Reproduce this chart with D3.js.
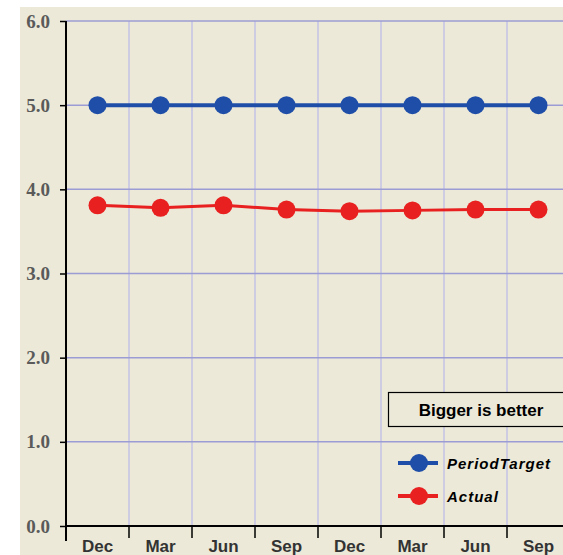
<!DOCTYPE html>
<html>
<head>
<meta charset="utf-8">
<script src="https://cdn.jsdelivr.net/npm/d3@7"></script>
<style>
  body { margin: 0; background: #fff; }
  svg { display: block; }
</style>
</head>
<body>
<div id="chart"></div>
<script>
// chart data
var periods = ["Dec", "Mar", "Jun", "Sep", "Dec", "Mar", "Jun", "Sep"];
var periodTarget = [5.0, 5.0, 5.0, 5.0, 5.0, 5.0, 5.0, 5.0];
var actual = [3.81, 3.78, 3.81, 3.76, 3.74, 3.75, 3.76, 3.76];
var yTicks = [0, 1, 2, 3, 4, 5, 6];
var seriesNames = ["PeriodTarget", "Actual"];
var note = "Bigger is better";

(function () {
  "use strict";

  var width = 563, height = 555;
  var left = 66, top = 21, bottom = 526, right = 570;

  var svg = d3.select("#chart").append("svg")
    .attr("width", width)
    .attr("height", height);

  // beige panel
  svg.append("rect")
    .attr("x", 20).attr("y", 7)
    .attr("width", width - 20).attr("height", height - 7)
    .attr("fill", "#ECE9D8");

  var x = d3.scaleBand()
    .domain(d3.range(periods.length))
    .range([left, right]);

  var y = d3.scaleLinear()
    .domain([0, 6])
    .range([bottom, top]);

  // vertical grid
  svg.append("g").selectAll("line")
    .data(d3.range(1, periods.length))
    .join("line")
    .attr("x1", function (d) { return x(d); })
    .attr("x2", function (d) { return x(d); })
    .attr("y1", top).attr("y2", bottom)
    .attr("stroke", "#C4C2E6")
    .attr("stroke-width", 1.5);

  // horizontal grid
  svg.append("g").selectAll("line")
    .data(yTicks.slice(1))
    .join("line")
    .attr("x1", left).attr("x2", width)
    .attr("y1", function (d) { return y(d); })
    .attr("y2", function (d) { return y(d); })
    .attr("stroke", "#9C9CD4")
    .attr("stroke-width", 1.5);

  // y axis
  var yAxis = d3.axisLeft(y)
    .tickValues(yTicks)
    .tickSize(6)
    .tickPadding(10)
    .tickFormat(d3.format(".1f"));

  var gy = svg.append("g")
    .attr("transform", "translate(" + left + ",0)")
    .call(yAxis);
  gy.select(".domain").remove();
  gy.selectAll(".tick line").attr("stroke", "#000").attr("stroke-width", 1.5);
  gy.selectAll(".tick text")
    .attr("fill", "#5a5a5a")
    .style("font", "bold 19px 'Liberation Serif', serif");

  svg.append("line")
    .attr("x1", left).attr("x2", left)
    .attr("y1", top).attr("y2", bottom + 15)
    .attr("stroke", "#000").attr("stroke-width", 2);

  // x axis
  svg.append("line")
    .attr("x1", left).attr("x2", width)
    .attr("y1", bottom).attr("y2", bottom)
    .attr("stroke", "#000").attr("stroke-width", 2);

  svg.append("g").selectAll("line")
    .data(d3.range(1, periods.length))
    .join("line")
    .attr("x1", function (d) { return x(d); })
    .attr("x2", function (d) { return x(d); })
    .attr("y1", bottom).attr("y2", bottom + 12)
    .attr("stroke", "#000").attr("stroke-width", 1.5);

  svg.append("g").selectAll("text")
    .data(periods)
    .join("text")
    .attr("x", function (d, i) { return x(i) + x.bandwidth() / 2; })
    .attr("y", bottom + 26)
    .attr("text-anchor", "middle")
    .attr("fill", "#333")
    .style("font", "bold 17px 'Liberation Sans', Arial, sans-serif")
    .text(function (d) { return d; });

  // series
  var series = [
    {name: seriesNames[0], values: periodTarget, color: "#1F4EA8", width: 4},
    {name: seriesNames[1], values: actual, color: "#E8201F", width: 3}
  ];

  var line = d3.line()
    .x(function (d, i) { return x(i) + x.bandwidth() / 2; })
    .y(function (d) { return y(d); });

  series.forEach(function (s) {
    svg.append("path")
      .datum(s.values)
      .attr("d", line)
      .attr("fill", "none")
      .attr("stroke", s.color)
      .attr("stroke-width", s.width);

    svg.append("g").selectAll("circle")
      .data(s.values)
      .join("circle")
      .attr("cx", function (d, i) { return x(i) + x.bandwidth() / 2; })
      .attr("cy", function (d) { return y(d); })
      .attr("r", 9)
      .attr("fill", s.color);
  });

  // note box
  svg.append("rect")
    .attr("x", 388.5).attr("y", 392.5)
    .attr("width", 190).attr("height", 34)
    .attr("fill", "#ECE9D8")
    .attr("stroke", "#000")
    .attr("stroke-width", 1.2);
  svg.append("text")
    .attr("x", 481).attr("y", 416)
    .attr("text-anchor", "middle")
    .style("font", "bold 17px 'Liberation Sans', Arial, sans-serif")
    .attr("fill", "#000")
    .text(note);

  // legend
  var legend = svg.append("g").selectAll("g")
    .data(series)
    .join("g")
    .attr("transform", function (d, i) { return "translate(398," + (463 + i * 33) + ")"; });

  legend.append("line")
    .attr("x1", 0).attr("x2", 40)
    .attr("stroke", function (d) { return d.color; })
    .attr("stroke-width", 4);
  legend.append("circle")
    .attr("cx", 21).attr("r", 9)
    .attr("fill", function (d) { return d.color; });
  legend.append("text")
    .attr("x", 49).attr("y", 6)
    .style("font", "italic bold 15px 'Liberation Sans', Arial, sans-serif")
    .style("letter-spacing", "1px")
    .attr("fill", "#000")
    .text(function (d) { return d.name; });
})();
</script>
</body>
</html>
